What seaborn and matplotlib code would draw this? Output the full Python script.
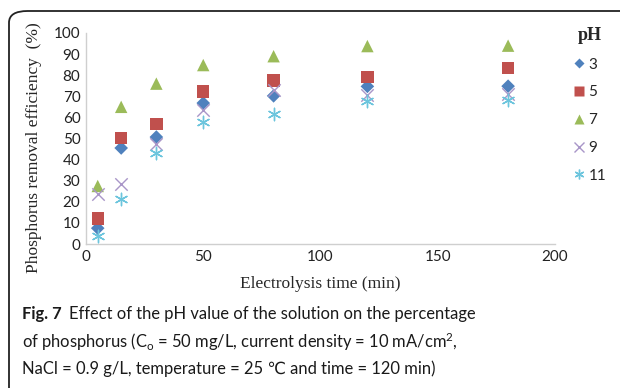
import matplotlib
matplotlib.use('Agg')
import matplotlib.pyplot as plt
import seaborn as sns
import pandas as pd
import numpy as np
from matplotlib.patches import FancyBboxPatch
from matplotlib.lines import Line2D

# data
time_min = [5, 15, 30, 50, 80, 120, 180]
ph_levels = ['3', '5', '7', '9', '11']
eff_ph3 = [7.5, 45.5, 50.7, 66.8, 70.2, 74.7, 74.8]
eff_ph5 = [12.0, 50.2, 57.0, 72.3, 77.4, 79.1, 83.5]
eff_ph7 = [27.5, 65.0, 76.0, 84.8, 89.0, 93.8, 94.0]
eff_ph9 = [23.7, 28.6, 47.5, 63.3, 73.0, 70.8, 71.0]
eff_ph11 = [3.6, 21.2, 43.3, 58.0, 61.6, 67.8, 68.2]

rows = []
for ph, vals in zip(ph_levels, [eff_ph3, eff_ph5, eff_ph7, eff_ph9, eff_ph11]):
    for t, v in zip(time_min, vals):
        rows.append({'time': t, 'eff': v, 'pH': ph})
df = pd.DataFrame(rows)

sns.set_style('white')
plt.rcParams['font.family'] = ['Lato', 'DejaVu Sans']
plt.rcParams['mathtext.fontset'] = 'custom'
plt.rcParams['mathtext.rm'] = 'Lato'
plt.rcParams['mathtext.it'] = 'Lato:italic'

colors = {'3': '#4F81BD', '5': '#C0504D', '7': '#9BBB59', '9': '#A996C8', '11': '#6CC5DD'}
markers = {'3': 'D', '5': 's', '7': '^', '9': 'x', '11': (6, 2, 0)}
sizes = {'3': 48, '5': 80, '7': 80, '9': 80, '11': 80}

fig = plt.figure(figsize=(6.2, 3.88), dpi=100)

# rounded frame around the figure
frame = FancyBboxPatch((9 / 620, -0.2), 1.2, 1.2 - 11 / 388,
                       boxstyle='round,pad=0,rounding_size=0.03',
                       transform=fig.transFigure, fill=False,
                       edgecolor='#222222', linewidth=1.3)
fig.patches.append(frame)

ax = fig.add_axes([86 / 620, 1 - 244 / 388, (555 - 86) / 620, (244 - 33) / 388])

for ph in ph_levels:
    sub = df[df['pH'] == ph]
    kw = dict(edgecolor='none') if ph in ['3', '5', '7'] else dict(linewidth=1.0)
    sns.scatterplot(data=sub, x='time', y='eff', ax=ax, color=colors[ph],
                    marker=markers[ph], s=sizes[ph], legend=False, zorder=3, **kw)

ax.set_xlim(0, 200)
ax.set_ylim(0, 100)
ax.set_xticks(np.arange(0, 201, 50))
ax.set_yticks(np.arange(0, 101, 10))
ax.tick_params(axis='both', length=0, labelsize=11, pad=4, colors='#222222')
for s in ['top', 'right']:
    ax.spines[s].set_visible(False)
for s in ['left', 'bottom']:
    ax.spines[s].set_color('#cfcfcf')
    ax.spines[s].set_linewidth(1.0)

ax.set_xlabel('Electrolysis time (min)', family='Liberation Serif', fontsize=12.5, labelpad=9)
ax.set_ylabel('Phosphorus removal efficiency  (%)', family='Liberation Serif', fontsize=12.5)
ax.yaxis.set_label_coords(-0.094, 0.455)

# legend
handles = []
for ph in ph_levels:
    if ph in ['9', '11']:
        h = Line2D([0], [0], linestyle='none', marker=markers[ph], color=colors[ph],
                   markersize=7, markeredgewidth=1.0, label=ph)
    else:
        ms = {'3': 5.5, '5': 6.5, '7': 7}[ph]
        h = Line2D([0], [0], linestyle='none', marker=markers[ph], color=colors[ph],
                   markeredgecolor='none', markersize=ms, label=ph)
    handles.append(h)
leg = ax.legend(handles=handles, title='pH', loc='upper left', frameon=False,
                bbox_to_anchor=(574 / 620, 1 - 27 / 388), bbox_transform=fig.transFigure,
                handlelength=0.7, handletextpad=0.25, labelspacing=0.9, fontsize=11,
                borderaxespad=0, borderpad=0)
leg.get_title().set_fontfamily('Liberation Serif')
leg.get_title().set_fontweight('bold')
leg.get_title().set_fontsize(13)
leg._legend_box.align = 'center'

# caption, font size fitted to the width of the first line
cap_family = ['Lato', 'DejaVu Sans']
cap_lines = ['Effect of the pH value of the solution on the percentage',
             r'of phosphorus (C$_\mathrm{o}$ = 50 mg/L, current density = 10 mA/cm$^\mathrm{2}$,',
             'NaCl = 0.9 g/L, temperature = 25 \u2103 and time = 120 min)']
probe = fig.text(0, 0, cap_lines[0], fontsize=13, family=cap_family)
fig.canvas.draw()
cap_size = 13 * (505 - 99) / probe.get_window_extent().width
probe.remove()

cap_kw = dict(fontsize=cap_size, family=cap_family, va='center', color='#1a1a1a')
fig_lbl = fig.text(22 / 620, 1 - 314 / 388, 'Fig. 7', fontweight='bold', **cap_kw)
fig.canvas.draw()
x_eff = fig_lbl.get_window_extent().x1 + 7
fig.text(x_eff / 620, 1 - 314 / 388, cap_lines[0], **cap_kw)
fig.text(22 / 620, 1 - 342 / 388, cap_lines[1], **cap_kw)
fig.text(22 / 620, 1 - 369 / 388, cap_lines[2], **cap_kw)

fig.savefig('out.png', dpi=100)
